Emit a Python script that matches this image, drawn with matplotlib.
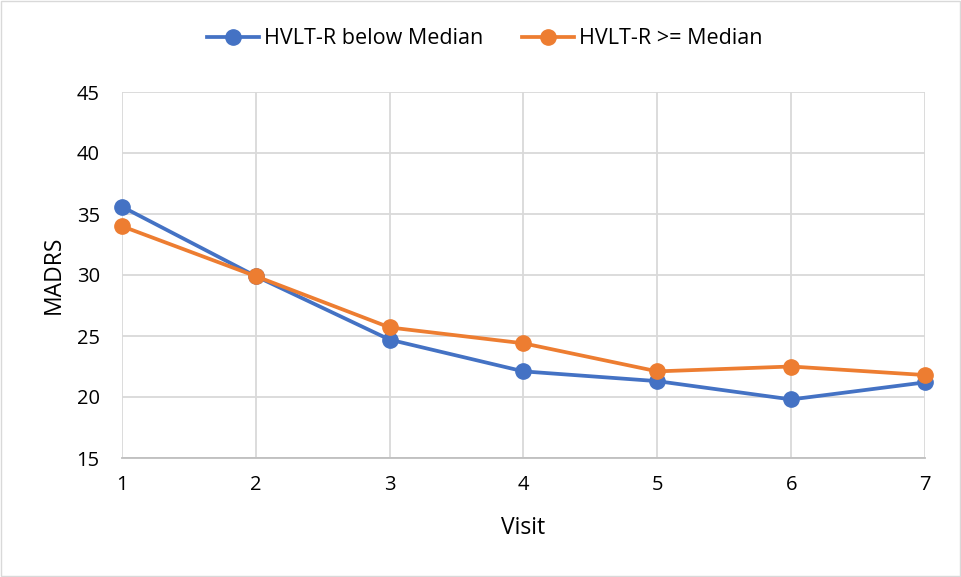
import matplotlib.pyplot as plt

plt.rcParams['font.family'] = ['Open Sans', 'DejaVu Sans']

visits = [1, 2, 3, 4, 5, 6, 7]
below_median = [35.6, 29.9, 24.7, 22.1, 21.3, 19.8, 21.2]
above_median = [34.0, 29.9, 25.7, 24.4, 22.1, 22.5, 21.8]

W, H = 962, 577
fig = plt.figure(figsize=(W / 100, H / 100), dpi=100)
ax = fig.add_axes([122 / W, 1 - 458 / H, (925 - 122) / W, (458 - 92) / H])

ax.plot(visits, below_median, color='#4472C4', lw=2.7, marker='o', ms=11,
        label='HVLT-R below Median', zorder=3, clip_on=False)
ax.plot(visits, above_median, color='#ED7D31', lw=2.7, marker='o', ms=11,
        label='HVLT-R >= Median', zorder=3, clip_on=False)

ax.set_xlim(1, 7)
ax.set_ylim(15, 45)
ax.set_xticks(visits)
ax.set_yticks(range(15, 50, 5))
ax.grid(True, color='#D9D9D9', lw=1.3)
ax.set_axisbelow(True)
for s in ['top', 'right', 'left']:
    ax.spines[s].set_visible(False)
ax.spines['bottom'].set_color('#BFBFBF')
ax.spines['bottom'].set_linewidth(1.3)
ax.tick_params(length=0, labelsize=14.5, colors='black')
ax.tick_params(axis='x', pad=12)
ax.tick_params(axis='y', pad=16)

ax.set_xlabel('Visit', fontsize=16.5, va='center')
ax.set_ylabel('MADRS', fontsize=16.5, va='center')
ax.xaxis.set_label_coords(0.5, (458 - 528) / 366)
ax.yaxis.set_label_coords((53.5 - 122) / 803, 0.5)

fig.legend(loc='center', bbox_to_anchor=(485 / W, 1 - 39 / H), ncol=2,
           frameon=False, fontsize=15.5, handlelength=2.4, handletextpad=0.25,
           columnspacing=1.8)

fig.patches.append(plt.Rectangle((0.001, 0.002), 0.997, 0.996, transform=fig.transFigure,
                                 fill=False, edgecolor='#D9D9D9', lw=1))

fig.savefig('out.png', dpi=100)
